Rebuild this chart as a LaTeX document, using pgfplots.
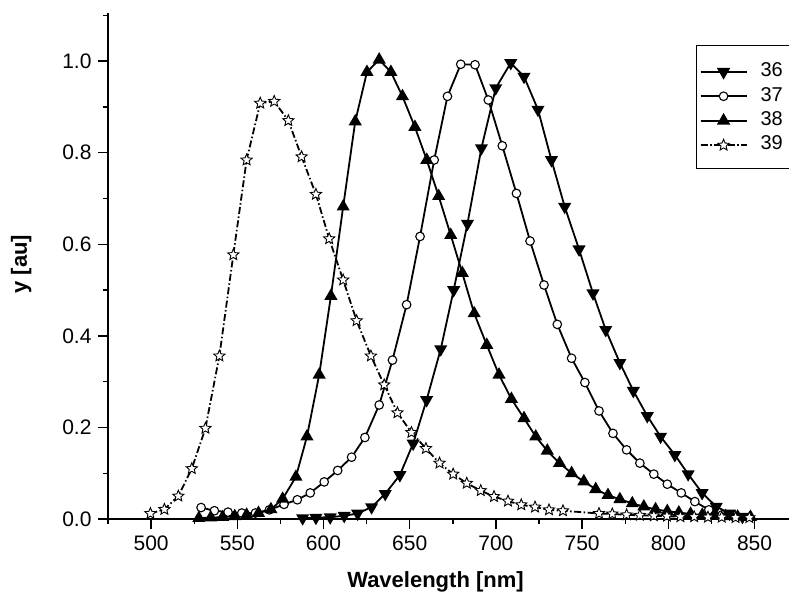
\documentclass[border=0pt]{standalone}
\usepackage{fontspec}
\setmainfont{Liberation Sans}
\usepackage{pgfplots}
\pgfplotsset{compat=1.18}

% open five-point star mark
\pgfdeclareplotmark{ostar}{%
  \pgfpathmoveto{\pgfpointpolar{90}{\pgfplotmarksize}}%
  \pgfpathlineto{\pgfpointpolar{126}{0.45\pgfplotmarksize}}%
  \pgfpathlineto{\pgfpointpolar{162}{\pgfplotmarksize}}%
  \pgfpathlineto{\pgfpointpolar{198}{0.45\pgfplotmarksize}}%
  \pgfpathlineto{\pgfpointpolar{234}{\pgfplotmarksize}}%
  \pgfpathlineto{\pgfpointpolar{270}{0.45\pgfplotmarksize}}%
  \pgfpathlineto{\pgfpointpolar{306}{\pgfplotmarksize}}%
  \pgfpathlineto{\pgfpointpolar{342}{0.45\pgfplotmarksize}}%
  \pgfpathlineto{\pgfpointpolar{18}{\pgfplotmarksize}}%
  \pgfpathlineto{\pgfpointpolar{54}{0.45\pgfplotmarksize}}%
  \pgfpathclose
  \pgfusepathqfillstroke}

\begin{document}
\begin{tikzpicture}
\begin{axis}[
  scale only axis,
  width=681pt,
  height=506pt,
  xmin=475, xmax=870,
  ymin=0, ymax=1.105,
  axis x line*=bottom,
  axis y line*=left,
  axis line style={line width=1.7pt},
  xtick={500,550,...,850},
  minor xtick={475,525,...,825},
  ytick={0,0.2,...,1.0},
  minor ytick={0.1,0.3,...,1.1},
  tick align=outside,
  major tick length=10pt,
  minor tick length=5pt,
  tick style={line width=1.4pt, black},
  yticklabel style={/pgf/number format/fixed, /pgf/number format/fixed zerofill,
    /pgf/number format/precision=1, xshift=-3pt},
  /pgf/number format/assume math mode=true,
  tick label style={font=\fontsize{21}{24}\selectfont},
  xticklabel style={yshift=-3pt},
  xlabel={\textbf{Wavelength [nm]}},
  ylabel={\textbf{y [au]}},
  label style={font=\fontsize{22}{25}\selectfont},
  every axis x label/.append style={yshift=-14pt, xshift=-13pt},
  every axis y label/.append style={yshift=24pt, xshift=2pt},
  legend style={
    at={(0.8634,0.9368)},
    anchor=north west,
    draw=black,
    line width=1.2pt,
    font=\fontsize{20}{23}\selectfont,
    cells={anchor=west},
    inner xsep=3pt,
    inner ysep=15pt,
    row sep=5pt,
    /tikz/every odd column/.append style={column sep=11pt},
  },
  legend image code/.code={%
    \draw[line width=2pt, mark=none] (0pt,-1.5pt) -- (46pt,-1.5pt);
    \draw[line width=2pt, mark repeat=2, mark phase=2]
      plot coordinates {(0pt,-1.5pt) (23pt,-1.5pt) (46pt,-1.5pt)};},
  every axis plot/.append style={line width=1.8pt, black},
]
\addplot[mark=triangle*, mark size=5.8pt, mark options={rotate=180, fill=black}] coordinates {
  (587.9,0.002) (595.6,0.003) (603.9,0.004) (612.0,0.007) (619.8,0.012)
  (627.9,0.026) (635.8,0.055) (644.3,0.096) (652.0,0.165) (659.8,0.260)
  (668.0,0.371) (675.5,0.500) (683.5,0.645) (691.6,0.810) (699.9,0.941)
  (708.6,0.996) (716.3,0.966) (724.4,0.894) (732.2,0.784) (739.9,0.682)
  (748.2,0.589) (756.3,0.493) (763.7,0.413) (771.9,0.341) (779.7,0.280)
  (787.8,0.225) (795.5,0.180) (803.8,0.140) (811.5,0.098) (819.6,0.057)
  (827.8,0.027) (835.5,0.012) (843.0,0.005)
};
\addlegendentry{\makebox[50pt][l]{36}}
\addplot[mark=*, mark size=4.3pt, mark options={fill=white, line width=1.1pt}] coordinates {
  (529.0,0.025) (536.7,0.018) (544.6,0.015) (552.6,0.013) (560.5,0.013)
  (568.6,0.020) (577.1,0.032) (584.8,0.042) (592.3,0.057) (600.4,0.081)
  (608.2,0.106) (616.3,0.135) (624.0,0.178) (632.3,0.249) (640.0,0.347)
  (648.2,0.468) (656.0,0.617) (664.2,0.784) (671.9,0.923) (679.6,0.993)
  (687.9,0.992) (695.6,0.915) (703.7,0.815) (711.9,0.711) (719.8,0.607)
  (727.9,0.511) (735.6,0.425) (743.9,0.351) (751.6,0.298) (759.8,0.236)
  (767.9,0.187) (775.8,0.151) (783.5,0.122) (791.6,0.098) (799.4,0.076)
  (807.5,0.057) (815.4,0.038) (823.5,0.020) (831.2,0.009)
};
\addlegendentry{37}
\addplot[mark=triangle*, mark size=5.8pt, mark options={fill=black}] coordinates {
  (527.7,0.002) (534.6,0.003) (541.5,0.004) (548.5,0.006) (555.4,0.009)
  (562.3,0.013) (569.5,0.021) (576.3,0.044) (584.0,0.092) (590.4,0.180)
  (597.5,0.315) (604.3,0.487) (611.4,0.682) (618.4,0.868) (625.2,0.976)
  (632.3,1.003) (639.1,0.976) (645.8,0.923) (653.0,0.856) (659.9,0.784)
  (666.8,0.705) (673.8,0.620) (680.5,0.537) (687.4,0.449) (694.7,0.380)
  (701.8,0.315) (709.0,0.262) (716.3,0.220) (723.1,0.180) (729.8,0.149)
  (736.9,0.122) (743.9,0.100) (751.0,0.082) (757.9,0.065) (765.0,0.052)
  (771.9,0.043) (779.1,0.034) (785.8,0.027) (792.6,0.021) (799.4,0.017)
  (806.1,0.014) (812.9,0.011) (819.7,0.009) (826.4,0.007) (833.3,0.006)
  (840.2,0.005) (847.7,0.004)
};
\addlegendentry{38}
\addplot[mark=ostar, mark size=5.9pt, dash pattern=on 7pt off 2.5pt on 1.5pt off 2.5pt,
  mark options={solid, fill=white, line width=0.9pt}] coordinates {
  (499.6,0.012) (507.7,0.021) (515.8,0.050) (523.6,0.110) (531.5,0.198)
  (539.6,0.356) (547.7,0.577) (555.4,0.784) (563.3,0.908) (571.4,0.912)
  (579.6,0.870) (587.3,0.791) (595.6,0.709) (603.3,0.612) (611.4,0.522)
  (619.2,0.433) (627.5,0.356) (635.2,0.293) (642.9,0.232) (651.0,0.189)
  (659.4,0.154) (667.3,0.122) (675.2,0.098) (683.1,0.078) (691.2,0.062)
  (698.9,0.049) (707.0,0.039) (714.7,0.031) (722.7,0.026) (730.8,0.020)
  (738.9,0.018) (759.8,0.012) (767.5,0.011) (775.8,0.009) (783.5,0.008)
  (791.6,0.007) (799.2,0.006) (807.0,0.005) (815.0,0.005) (823.0,0.004)
  (831.0,0.004) (839.0,0.003) (847.0,0.003)
};
\addlegendentry{39}
\end{axis}
\pgfresetboundingbox
\path (-108pt,-75pt) rectangle (681pt,519pt);
\end{tikzpicture}
\end{document}
